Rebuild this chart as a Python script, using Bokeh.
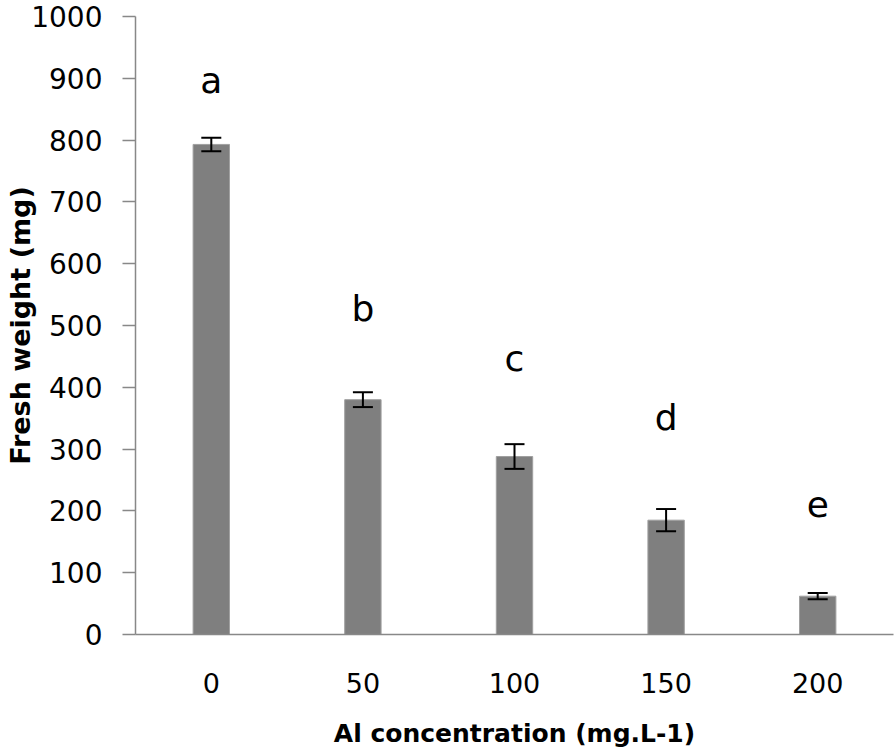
from bokeh.plotting import figure
from bokeh.models import (ColumnDataSource, FactorRange, Whisker, TeeHead,
                          FixedTicker, Range1d)
from bokeh.core.properties import value
from bokeh.embed import file_html
from bokeh.resources import INLINE

# ---- data ----
categories = ["0", "50", "100", "150", "200"]
fresh_weight = [793, 380, 288, 185, 62]
error = [11, 12, 20, 18, 5]
letters = ["a", "b", "c", "d", "e"]
letter_y = [896, 528, 447, 351, 211]
y_ticks = list(range(0, 1001, 100))

src = ColumnDataSource(dict(
    cat=categories,
    val=fresh_weight,
    upper=[v + e for v, e in zip(fresh_weight, error)],
    lower=[v - e for v, e in zip(fresh_weight, error)],
))
lab_src = ColumnDataSource(dict(cat=categories, y=letter_y, txt=letters))

p = figure(width=896, height=755, output_backend="svg", toolbar_location=None,
           x_range=FactorRange(factors=categories, range_padding=0),
           y_range=Range1d(0, 1000),
           min_border_left=135, min_border_right=3,
           min_border_top=16, min_border_bottom=121)
p.outline_line_color = None
p.xgrid.grid_line_color = None
p.ygrid.grid_line_color = None
p.background_fill_color = "white"
p.border_fill_color = "white"

p.vbar(x="cat", top="val", width=0.24, source=src,
       fill_color="#7f7f7f", line_color="#a0a0a0", line_width=1)

w = Whisker(base="cat", upper="upper", lower="lower", source=src,
            level="overlay",
            line_color="black", line_width=2,
            upper_head=TeeHead(size=20, line_color="black", line_width=2),
            lower_head=TeeHead(size=20, line_color="black", line_width=2))
p.add_layout(w)

p.text(x="cat", y="y", text="txt", source=lab_src,
       text_font=value("DejaVu Sans"), text_font_size="36px",
       text_align="center", text_baseline="alphabetic", text_color="black")

axis_color = "#888888"
# y axis
p.yaxis.ticker = FixedTicker(ticks=y_ticks)
p.yaxis.axis_line_color = axis_color
p.yaxis.axis_line_width = 1.5
p.yaxis.major_tick_line_color = axis_color
p.yaxis.major_tick_line_width = 1.5
p.yaxis.major_tick_out = 13
p.yaxis.major_tick_in = 0
p.yaxis.minor_tick_line_color = None
p.yaxis.major_label_standoff = 20
p.yaxis.major_label_text_font = "DejaVu Sans"
p.yaxis.major_label_text_font_size = "28px"
p.yaxis.major_label_text_color = "black"
p.yaxis.axis_label = "Fresh weight (mg)"
p.yaxis.axis_label_text_font = "DejaVu Sans"
p.yaxis.axis_label_text_font_style = "bold"
p.yaxis.axis_label_text_font_size = "27px"
p.yaxis.axis_label_text_color = "black"
p.yaxis.axis_label_standoff = -8

# x axis
p.xaxis.axis_line_color = axis_color
p.xaxis.axis_line_width = 1.5
p.xaxis.major_tick_line_color = None
p.xaxis.major_tick_out = 0
p.xaxis.major_tick_in = 0
p.xaxis.major_label_standoff = 38
p.xaxis.major_label_text_font = "DejaVu Sans"
p.xaxis.major_label_text_font_size = "27px"
p.xaxis.major_label_text_color = "black"
p.xaxis.axis_label = "Al concentration (mg.L-1)"
p.xaxis.axis_label_text_font = "DejaVu Sans"
p.xaxis.axis_label_text_font_style = "bold"
p.xaxis.axis_label_text_font_size = "25px"
p.xaxis.axis_label_text_color = "black"
p.xaxis.axis_label_standoff = 23

open("out.html", "w").write(file_html(p, INLINE))
